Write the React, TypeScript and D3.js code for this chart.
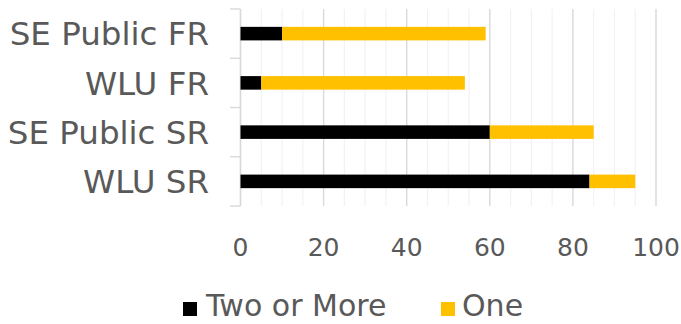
import * as d3 from 'd3';
import * as React from 'react';

const categories = ['SE Public FR', 'WLU FR', 'SE Public SR', 'WLU SR'];
const twoOrMore = [10, 5, 60, 84];
const one = [49, 49, 25, 11];
const seriesNames = ['Two or More', 'One'];
const seriesColors = ['#000000', '#FFC000'];
const xTicks = [0, 20, 40, 60, 80, 100];

const W = 681;
const H = 324;
const FONT = '"DejaVu Sans", sans-serif';
const TEXT = '#595959';

interface IRow {
  cat: string;
  two: number;
  one: number;
}

const rows: IRow[] = categories.map((c, i) => ({ cat: c, two: twoOrMore[i], one: one[i] }));

export default function App() {
  const x = d3.scaleLinear().domain([0, 100]).range([240.5, 656]);
  const y = d3.scaleBand<string>()
    .domain(categories)
    .range([9, 206])
    .paddingInner(0.725)
    .paddingOuter(0.3625);

  const stacked = d3.stack<IRow>().keys(['two', 'one'])(rows);
  const minor = x.ticks(25);
  const step = y.step();
  const boundaries = d3.range(categories.length + 1).map((i) => 9 + i * step);

  return (
    <svg width={W} height={H} style={{ position: 'absolute', left: 0, top: 0, background: '#fff' }}
      fontFamily={FONT}>
      {minor.map((t) => (
        <line key={'m' + t} x1={x(t)} x2={x(t)} y1={9} y2={206}
          stroke={t % 20 === 0 ? '#d9d9d9' : '#f2f2f2'} strokeWidth={t % 20 === 0 ? 1.4 : 1.2} />
      ))}
      <line x1={x(0)} x2={x(0)} y1={9} y2={206} stroke='#d9d9d9' strokeWidth={1.4} />
      {boundaries.map((b, i) => (
        <line key={'b' + i} x1={230} x2={x(0)} y1={b} y2={b} stroke='#d9d9d9' strokeWidth={1.4} />
      ))}

      {stacked.map((s, si) => (
        <g key={s.key} fill={seriesColors[si]}>
          {s.map((d) => (
            <rect key={d.data.cat} x={x(d[0])} y={y(d.data.cat)}
              width={x(d[1]) - x(d[0])} height={y.bandwidth()} />
          ))}
        </g>
      ))}

      {categories.map((c) => (
        <text key={c} x={209} y={(y(c) as number) + y.bandwidth() / 2} dy='0.36em'
          textAnchor='end' fontSize={32.5} fill={TEXT}>{c}</text>
      ))}

      {xTicks.map((t) => (
        <text key={t} x={x(t)} y={256} textAnchor='middle' fontSize={25} fill={TEXT}>{t}</text>
      ))}

      <g>
        <rect x={183} y={302} width={14} height={14} fill={seriesColors[0]} />
        <text x={206} y={316} fontSize={30} fill={TEXT}>{seriesNames[0]}</text>
        <rect x={441} y={302} width={14} height={14} fill={seriesColors[1]} />
        <text x={462} y={316} fontSize={30} fill={TEXT}>{seriesNames[1]}</text>
      </g>
    </svg>
  );
}
